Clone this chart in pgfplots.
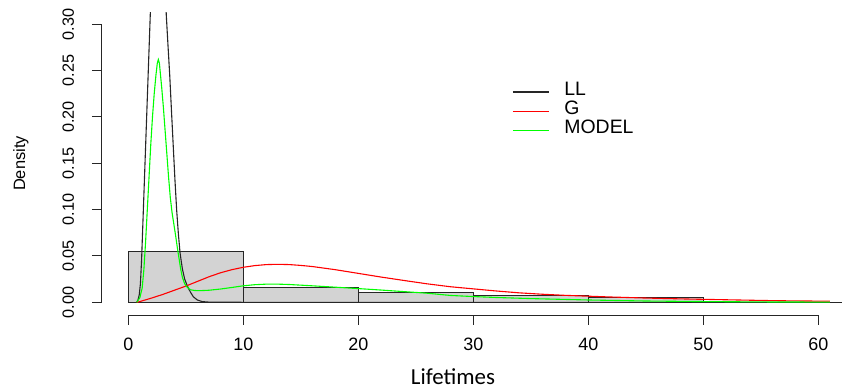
\documentclass[border=0pt]{standalone}
\usepackage{pgfplots}
\pgfplotsset{compat=1.18}
\usepackage{fontspec}
\setmainfont{Liberation Sans}
\newfontfamily\carlito{Carlito}
\definecolor{histgray}{RGB}{211,211,211}
\definecolor{rgreen}{RGB}{0,255,0}
\definecolor{rred}{RGB}{255,0,0}
\begin{document}
\begin{tikzpicture}
\path[use as bounding box] (-102bp,-74bp) rectangle (740bp,315bp);
\begin{axis}[
  at={(0,0)}, anchor=south west,
  x=11.5bp, y=926.7bp,
  xmin=-2.29, xmax=62.06, ymin=-0.0137, ymax=0.3122,
  clip mode=individual,
  axis line style={draw=none},
  xtick={0,10,20,30,40,50,60},
  xticklabels={0,10,20,30,40,50,60},
  ytick={0,0.05,0.1,0.15,0.2,0.25,0.3},
  yticklabels={0.00,0.05,0.10,0.15,0.20,0.25,0.30},
  xtick pos=bottom, ytick pos=left,
  tick align=outside,
  major tick length=10bp,
  tick style={black!85, line width=1bp},
  xticklabel style={font=\fontsize{18}{18}\selectfont, anchor=base},
  xticklabel shift=25bp,
  yticklabel style={font=\fontsize{16.3}{16}\selectfont, rotate=90, anchor=base},
  yticklabel shift=18bp,
  ylabel={Density},
  ylabel style={at={(axis description cs:-0.104,0.5017)}, anchor=base, font=\fontsize{16.5}{16}\selectfont},
  xlabel={\carlito Lifetimes},
  xlabel style={at={(axis description cs:0.4743,-0.2285)}, anchor=base, inner sep=0pt, font=\fontsize{23}{23}\selectfont},
  legend style={at={(axis description cs:0.554,0.771)}, anchor=north west, draw=none, fill=none,
    inner sep=0pt, row sep=0pt, column sep=0pt, font=\fontsize{19.5}{19.5}\selectfont,
    nodes={inner sep=0pt, text height=13bp, text depth=6.3bp}},
  legend cell align=left,
  legend image code/.code={\draw[#1, line width=1.4bp] (0bp,0bp) -- (36bp,0bp); \path (51bp,0bp);},
]
\addplot[ybar interval, fill=histgray, draw=black!85, line width=0.9bp, forget plot]
  coordinates {(0,0.0546) (10,0.0162) (20,0.0108) (30,0.0069) (40,0.0054) (50,0) (60,0) (70,0)};
\addplot[draw=black!85, line width=1.1bp] coordinates {
 (0.73,0) (0.85,0.003) (0.95,0.008) (1.05,0.02) (1.15,0.045) (1.25,0.08) (1.35,0.115)
 (1.45,0.15) (1.55,0.185) (1.65,0.22) (1.75,0.255) (1.85,0.29) (1.95,0.325) (2.1,0.38)
 (2.3,0.43) (2.5,0.455) (2.7,0.45) (2.9,0.42) (3.1,0.37) (3.3,0.31) (3.45,0.277)
 (3.6,0.245) (3.75,0.207) (3.9,0.17) (4.05,0.133) (4.2,0.1) (4.35,0.074) (4.5,0.053)
 (4.7,0.036) (4.9,0.025) (5.13,0.0176) (5.4,0.011) (5.65,0.006) (6.0,0.0025) (6.4,0.0008)
 (7,0.0002) (8,0.00005) (10,0) (20,0) (40,0) (61,0)};
\addlegendentry{LL}
\addplot[draw=rred, line width=1.1bp] coordinates {
 (0.73,0) (1,0.0008) (2,0.0045) (3,0.0085) (4,0.013) (5,0.0175) (6,0.0225) (7,0.0275)
 (8,0.0318) (9,0.0352) (10,0.0378) (11,0.0396) (12,0.0407) (13,0.041) (14,0.0407)
 (15,0.0398) (16,0.0386) (18,0.0352) (20,0.0312) (22,0.0272) (24,0.0235) (26,0.0199)
 (28,0.0168) (30,0.0145) (32,0.0122) (34,0.0102) (36,0.0087) (38,0.0075) (40,0.0066)
 (42,0.0057) (45,0.0046) (48,0.0037) (50,0.0032) (53,0.0025) (56,0.0018) (58,0.0015) (61,0.0012)};
\addlegendentry{G}
\addplot[draw=rgreen, line width=1.1bp] coordinates {
 (0.73,0) (1.0,0.005) (1.2,0.015) (1.35,0.035) (1.5,0.065) (1.65,0.1) (1.8,0.135)
 (1.95,0.17) (2.1,0.2) (2.25,0.225) (2.4,0.245) (2.52,0.258) (2.61,0.262) (2.7,0.258)
 (2.9,0.232) (3.05,0.21) (3.2,0.185) (3.35,0.16) (3.5,0.135) (3.65,0.113) (3.8,0.097)
 (3.95,0.085) (4.1,0.073) (4.25,0.06) (4.4,0.048) (4.55,0.036) (4.7,0.027) (4.9,0.02)
 (5.1,0.0165) (5.4,0.0135) (5.8,0.0127) (6.3,0.0126) (7,0.013) (8,0.0143) (9,0.016)
 (10,0.0178) (11,0.019) (12,0.0196) (13,0.0196) (14,0.0192) (16,0.0178) (18,0.0163)
 (20,0.0148) (22,0.0132) (24,0.0115) (26,0.0098) (28,0.0074) (30,0.0062) (32,0.0052)
 (35,0.004) (40,0.0025) (45,0.0014) (50,0.0008) (55,0.0004) (61,0.0002)};
\addlegendentry{MODEL}
\draw[black!85, line width=1bp] (axis cs:0,-0.0137) -- (axis cs:60,-0.0137);
\draw[black!85, line width=1bp] (axis cs:-2.29,0) -- (axis cs:-2.29,0.3);
\end{axis}
\end{tikzpicture}
\end{document}
